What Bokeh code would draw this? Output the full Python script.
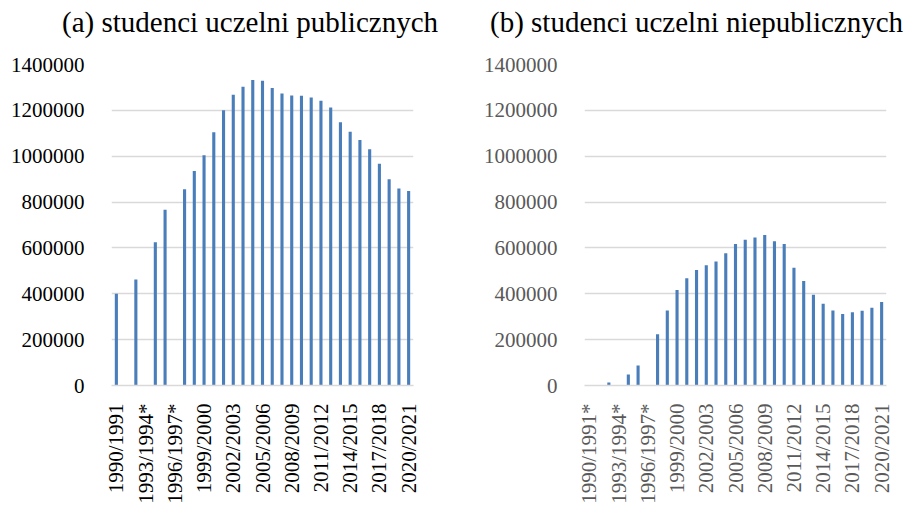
import math
from bokeh.plotting import figure
from bokeh.layouts import row, column
from bokeh.models import ColumnDataSource, Range1d, FixedTicker, NumeralTickFormatter, Div
from bokeh.embed import file_html
from bokeh.resources import INLINE

years = [f"{y}/{y+1}" for y in range(1990, 2021)]

labels_a = list(years)
labels_a[3] = "1993/1994*"
labels_a[6] = "1996/1997*"
labels_b = list(years)
labels_b[0] = "1990/1991*"
labels_b[3] = "1993/1994*"
labels_b[6] = "1996/1997*"

public = [400000, None, 462000, None, 625000, 767000, None, 856000, 935000, 1004000,
          1104000, 1200000, 1268000, 1303000, 1332000, 1329000, 1297000, 1274000, 1265000,
          1264000, 1256000, 1242000, 1213000, 1148000, 1107000, 1071000, 1030000, 967000,
          900000, 859000, 848000]
private = [None, None, 13000, None, 48000, 87000, None, 223000, 327000, 416000,
           468000, 504000, 525000, 541000, 577000, 617000, 636000, 646000, 656000,
           629000, 617000, 514000, 456000, 396000, 356000, 327000, 312000, 319000,
           326000, 339000, 364000]

y_ticks = [0, 200000, 400000, 600000, 800000, 1000000, 1200000, 1400000]
titles = ["(a) studenci uczelni publicznych", "(b) studenci uczelni niepublicznych"]

FONT = "Liberation Serif"
BAR = "#4a7ebb"
GRID = "#d9d9d9"
TITLE_H = 44


def title_div(text, pad_left):
    html = (f'<div style="font-family: \'Liberation Serif\', serif; font-size: 29px; '
            f'line-height: 29px; padding-top: 8px; padding-left: {pad_left}px; '
            f'color: #000000; white-space: nowrap;">{text}</div>')
    return Div(text=html, width=453, height=TITLE_H, margin=(0, 0, 0, 0))


def panel(labels, values, tick_color, border_left, border_right):
    n = len(labels)
    p = figure(x_range=Range1d(-0.5, n - 0.5),
               y_range=Range1d(0, 1400000),
               width=453, height=506 - TITLE_H, output_backend="svg", toolbar_location=None,
               min_border_left=border_left, min_border_right=border_right,
               min_border_top=64 - TITLE_H, min_border_bottom=121, margin=(0, 0, 0, 0))
    xs = [i for i, v in enumerate(values) if v is not None]
    vs = [v for v in values if v is not None]
    src = ColumnDataSource(dict(x=xs, top=vs))
    p.vbar(x="x", top="top", width=0.32, source=src, fill_color=BAR, line_color=None)

    p.outline_line_color = None
    p.background_fill_color = "white"
    p.border_fill_color = "white"
    p.xgrid.grid_line_color = None
    p.ygrid.grid_line_color = GRID
    p.ygrid.grid_line_width = 1.5

    p.yaxis.ticker = FixedTicker(ticks=y_ticks)
    p.yaxis.formatter = NumeralTickFormatter(format="0")
    p.yaxis.axis_line_color = None
    p.yaxis.major_tick_line_color = None
    p.yaxis.minor_tick_line_color = None
    p.yaxis.major_label_standoff = 21
    p.yaxis.major_label_text_font = FONT
    p.yaxis.major_label_text_font_size = "21px"
    p.yaxis.major_label_text_color = tick_color

    shown = list(range(0, n, 3))
    p.xaxis.ticker = FixedTicker(ticks=shown)
    p.xaxis.major_label_overrides = {i: labels[i] for i in shown}
    p.xaxis.axis_line_color = GRID
    p.xaxis.axis_line_width = 1.5
    p.xaxis.major_tick_line_color = None
    p.xaxis.minor_tick_line_color = None
    p.xaxis.major_label_orientation = math.pi / 2
    p.xaxis.major_label_standoff = 12
    p.xaxis.major_label_text_font = FONT
    p.xaxis.major_label_text_font_size = "21px"
    p.xaxis.major_label_text_color = tick_color
    return p


pa = panel(labels_a, public, "#000000", 111, 40)
pb = panel(labels_b, private, "#595959", 131, 20)

layout = row(column(title_div(titles[0], 62), pa, spacing=0),
             column(title_div(titles[1], 37), pb, spacing=0), spacing=0)
open("out.html", "w").write(file_html(layout, INLINE))
